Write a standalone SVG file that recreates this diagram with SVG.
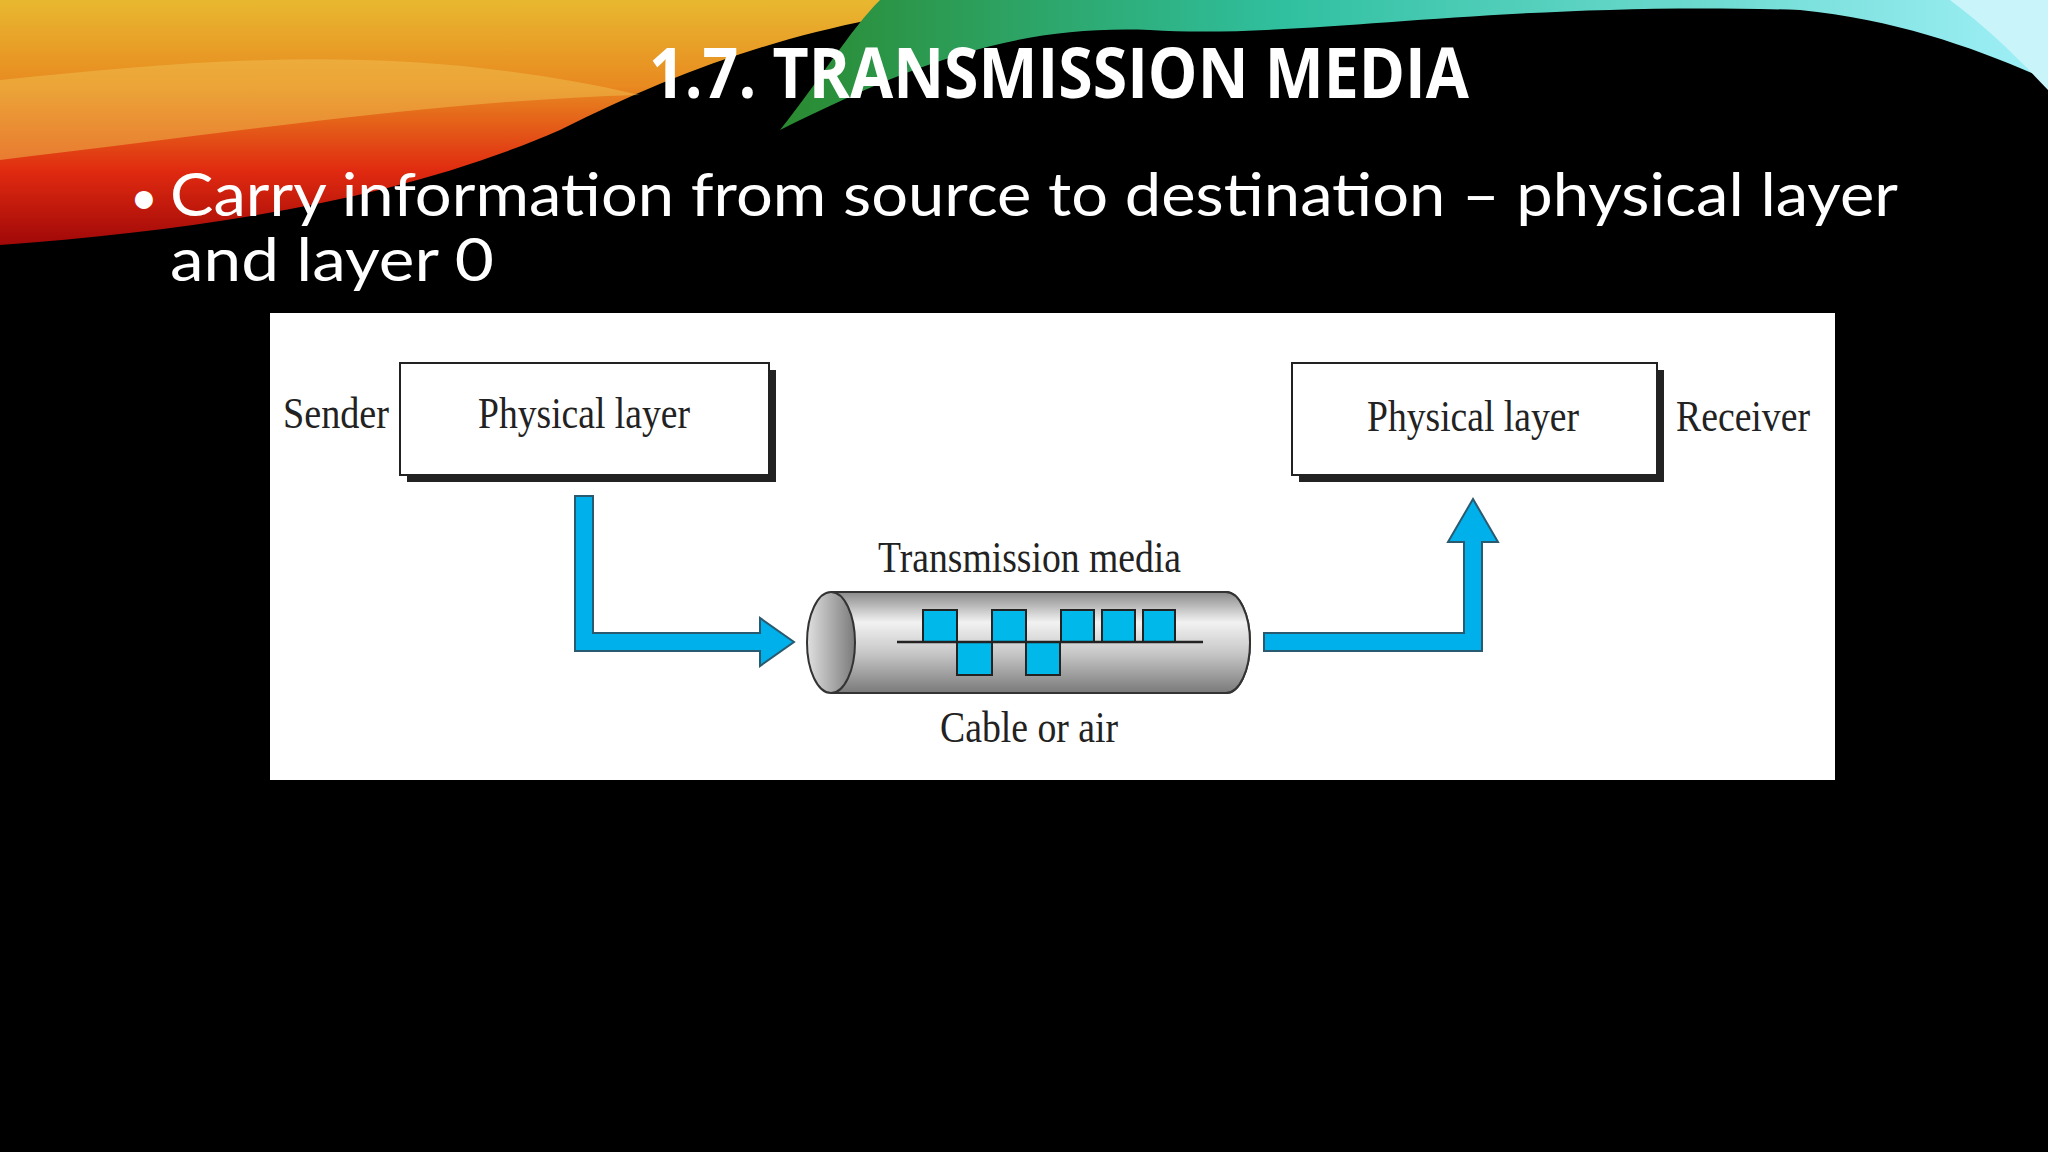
<svg xmlns="http://www.w3.org/2000/svg" width="2048" height="1152" viewBox="0 0 2048 1152">
<defs>
<linearGradient id="warm" x1="0" y1="0" x2="0" y2="1">
<stop offset="0" stop-color="#e8b830"/><stop offset="0.35" stop-color="#e88a20"/><stop offset="0.7" stop-color="#e02a10"/><stop offset="1" stop-color="#a00808"/>
</linearGradient>
<linearGradient id="cool" x1="0" y1="0" x2="1" y2="0">
<stop offset="0" stop-color="#2a8a30"/><stop offset="0.4" stop-color="#30c0a0"/><stop offset="1" stop-color="#a0f0f8"/>
</linearGradient>
<linearGradient id="cyl" x1="0" y1="0" x2="0" y2="1">
<stop offset="0" stop-color="#8a8a8a"/><stop offset="0.3" stop-color="#f2f2f2"/><stop offset="0.6" stop-color="#c8c8c8"/><stop offset="1" stop-color="#7a7a7a"/>
</linearGradient>
<linearGradient id="cap" x1="0" y1="0" x2="1" y2="0">
<stop offset="0" stop-color="#e0e0e0"/><stop offset="1" stop-color="#7a7a7a"/>
</linearGradient>
<style>
.box{fill:#fff;stroke:#222;stroke-width:2}
.shadow{fill:#222}
.lbl{font-family:"Liberation Serif",serif;font-size:44px;fill:#222}
.arrow{fill:#00b0ea;stroke:#2a5a70;stroke-width:2}
.sq{fill:#00b8ea;stroke:#222;stroke-width:2}
</style>
</defs>
<rect width="2048" height="1152" fill="#000"/>
<path d="M0 0 H1000 C820 20 700 60 560 130 C400 200 200 230 0 245 Z" fill="url(#warm)"/>
<path d="M0 80 C200 60 400 40 640 95 C450 100 250 130 0 160 Z" fill="#f0c050" opacity="0.5"/>
<path d="M880 0 H2048 V80 C1980 50 1900 20 1800 10 C1500 0 1300 40 1150 30 C1020 25 920 60 780 130 C820 80 850 30 880 0 Z" fill="url(#cool)"/>
<path d="M1950 0 H2048 V90 C2020 60 1990 30 1950 0 Z" fill="#c8f4fa"/>
<text x="1059" y="98" text-anchor="middle" font-family="Open Sans,sans-serif" font-weight="bold" font-size="70" fill="#fff" textLength="820" lengthAdjust="spacingAndGlyphs">1.7. TRANSMISSION MEDIA</text>
<text x="130" y="214" font-family="Lato,sans-serif" font-size="48" fill="#fff">•</text>
<text x="170" y="216" font-family="Lato,sans-serif" font-size="60" fill="#fff" textLength="1728" lengthAdjust="spacingAndGlyphs">Carry information from source to destination – physical layer</text>
<text x="170" y="281" font-family="Lato,sans-serif" font-size="60" fill="#fff" textLength="324" lengthAdjust="spacingAndGlyphs">and layer 0</text>
<rect x="270" y="313" width="1565" height="467" fill="#fff"/>
<g id="sender">
<rect class="shadow" x="407" y="370" width="369" height="112"/>
<rect class="box" x="400" y="363" width="369" height="112"/>
<text class="lbl" x="478" y="428" textLength="212" lengthAdjust="spacingAndGlyphs">Physical layer</text>
<text class="lbl" x="283" y="428" textLength="106" lengthAdjust="spacingAndGlyphs">Sender</text>
</g>
<g id="receiver">
<rect class="shadow" x="1299" y="370" width="365" height="112"/>
<rect class="box" x="1292" y="363" width="365" height="112"/>
<text class="lbl" x="1367" y="431" textLength="212" lengthAdjust="spacingAndGlyphs">Physical layer</text>
<text class="lbl" x="1676" y="431" textLength="134" lengthAdjust="spacingAndGlyphs">Receiver</text>
</g>
<g id="media">
<rect x="831" y="592" width="395" height="101" fill="url(#cyl)"/>
<path d="M831 592 H1226 A24 50.5 0 0 1 1226 693 H831" fill="none" stroke="#333" stroke-width="2"/>
<path d="M1226 592 A24 50.5 0 0 1 1226 693" fill="url(#cyl)" stroke="#333" stroke-width="2"/>
<ellipse cx="831" cy="642.5" rx="24" ry="50.5" fill="url(#cap)" stroke="#333" stroke-width="2"/>
<rect class="sq" x="923" y="610" width="34" height="32"/>
<rect class="sq" x="957" y="642" width="35" height="33"/>
<rect class="sq" x="992" y="610" width="34" height="32"/>
<rect class="sq" x="1026" y="642" width="34" height="33"/>
<rect class="sq" x="1061" y="610" width="33" height="32"/>
<rect class="sq" x="1102" y="610" width="33" height="32"/>
<rect class="sq" x="1143" y="610" width="32" height="32"/>
<line x1="897" y1="642" x2="1203" y2="642" stroke="#222" stroke-width="2.5"/>
<text class="lbl" x="878" y="572" textLength="303" lengthAdjust="spacingAndGlyphs">Transmission media</text>
<text class="lbl" x="940" y="742" textLength="178" lengthAdjust="spacingAndGlyphs">Cable or air</text>
</g>
<g id="connectors">
<path class="arrow" d="M575 496 H593 V633 H760 V618 L794 642 L760 666 V651 H575 Z"/>
<path class="arrow" d="M1264 633 H1464 V542 H1448 L1473 499 L1498 542 H1482 V651 H1264 Z"/>
</g>
</svg>
